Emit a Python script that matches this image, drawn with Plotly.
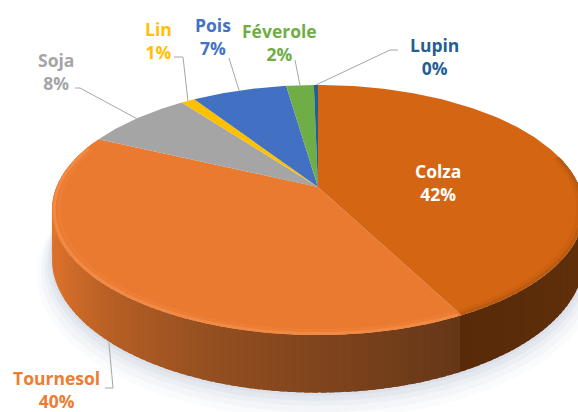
import math
import plotly.graph_objects as go

categories = ["Colza", "Tournesol", "Soja", "Lin", "Pois", "Féverole", "Lupin"]
values = [42.4, 39.6, 7.8, 1.0, 6.9, 2.0, 0.3]
percent_labels = ["42%", "40%", "8%", "1%", "7%", "2%", "0%"]
slice_colors = ["#D46512", "#EA7A30", "#A5A5A5", "#FFC000", "#4270C2", "#6FAD47", "#255E91"]
label_colors = ["#FFFFFF", "#ED7D31", "#A5A5A5", "#FFC000", "#4472C4", "#70AD47", "#255E91"]

# Label centre and leader routes, in page pixels
label_xy = [(438, 182), (56, 389), (56, 71), (158, 40), (213, 36), (279, 42), (434, 56)]
leader_elbow = [None, [(105, 388), (113, 388)], [(75, 88), (80, 88)], [(174, 57), (183, 57)],
                [(229, 58)], [(295, 60)], [(398, 50), (390, 50)]]

CX, CY, A, B, P, T = 318.0, 187.0, 261.5, 120.8, 0.184, 47.0
FONT = "Open Sans"
WALL_LEFT = [(0, (100, 54, 24)), (.35, (150, 80, 32)), (.65, (215, 110, 42)), (1, (235, 125, 50))]


def project(deg, r=1.0, drop=0.0):
    a = math.radians(deg)
    X, Y = r * math.sin(a), r * math.cos(a)
    w = 1 + P * Y
    return CX + A * X / w, CY - B * Y / w + drop / w


def arc(a0, a1, r=1.0, drop=0.0, step=1.0):
    n = max(2, int(abs(a1 - a0) / step) + 1)
    return [project(a0 + (a1 - a0) * i / (n - 1), r, drop) for i in range(n)]


def lerp(c0, c1, t):
    t = min(1, max(0, t))
    return "rgb(" + ",".join(str(round(u + (v - u) * t)) for u, v in zip(c0, c1)) + ")"


def ramp(stops, t):
    for (t0, c0), (t1, c1) in zip(stops, stops[1:]):
        if t <= t1:
            return lerp(c0, c1, (t - t0) / (t1 - t0))
    return lerp(stops[-1][1], stops[-1][1], 1)


def poly(pts, color, opacity=1.0):
    return go.Scatter(x=[p[0] for p in pts] + [pts[0][0]], y=[p[1] for p in pts] + [pts[0][1]],
                      mode="lines", fill="toself", fillcolor=color, line=dict(width=0),
                      opacity=opacity, hoverinfo="skip", showlegend=False)


def path(pts, color, width, opacity=1.0):
    return go.Scatter(x=[p[0] for p in pts], y=[p[1] for p in pts], mode="lines",
                      line=dict(color=color, width=width), opacity=opacity,
                      hoverinfo="skip", showlegend=False)


fig = go.Figure()
total = sum(values)
edges = [0.0]
for v in values:
    edges.append(edges[-1] + v / total * 360)
mids = [(edges[i] + edges[i + 1]) / 2 for i in range(len(values))]

# soft shadow under the disc
for extra, op in [(16, .05), (12, .07), (8, .08), (5, .10), (2, .12)]:
    fig.add_trace(poly(arc(60, 300, 1.0 + extra / 300, T + extra * .8), "#9FB0C4", op))

# side wall: front half, as shaded strips
split = edges[1]
a = 75.0
while a < 292:
    b = a + 1.5
    mid = (a + b) / 2
    if mid < split:
        t = (mid - 75) / (split - 75)
        col = lerp((104, 54, 14), (88, 42, 8), t)
    else:
        col = ramp(WALL_LEFT, (mid - split) / (292 - split))
    fig.add_trace(poly(arc(a, b + 1, 1, 0, .5) + arc(b + 1, a, 1, T, .5), col))
    a = b

# top face slices
for i, c in enumerate(slice_colors):
    pts = [project(0, 0)] + arc(edges[i], edges[i + 1])
    fig.add_trace(poly(pts, c))

# soft bevel along the front rim
fig.add_trace(path(arc(75, edges[1], .992), "#A85410", 3, .55))
fig.add_trace(path(arc(75, edges[1], .978), "#BC5C10", 3, .35))
fig.add_trace(path(arc(edges[1] + .5, 290, .992), "#F48C46", 3, .9))
fig.add_trace(path(arc(edges[1] + .5, 290, .975), "#F08740", 3, .35))

# leader lines, from each outer rim point through its elbow points
for i, elbow in enumerate(leader_elbow):
    if elbow:
        rim = project(mids[i], 1.0, T * 1.02 if i == 1 else 0)
        fig.add_trace(path(elbow + [rim], "#A6A6A6", 1))

annotations = []
for i, name in enumerate(categories):
    annotations.append(dict(x=label_xy[i][0], y=label_xy[i][1], xref="x", yref="y", showarrow=False,
                            text=f"<b>{name}</b><br><b>{percent_labels[i]}</b>", align="center",
                            font=dict(family=FONT, size=17.5, color=label_colors[i])))

fig.update_layout(width=578, height=412, margin=dict(l=0, r=0, t=0, b=0),
                  paper_bgcolor="white", plot_bgcolor="white", showlegend=False,
                  annotations=annotations,
                  xaxis=dict(range=[0, 578], visible=False, fixedrange=True),
                  yaxis=dict(range=[412, 0], visible=False, fixedrange=True))
fig.write_html("out.html", config={"displayModeBar": False},
               post_script="document.body.style.margin='0';document.documentElement.style.overflow='hidden';")
